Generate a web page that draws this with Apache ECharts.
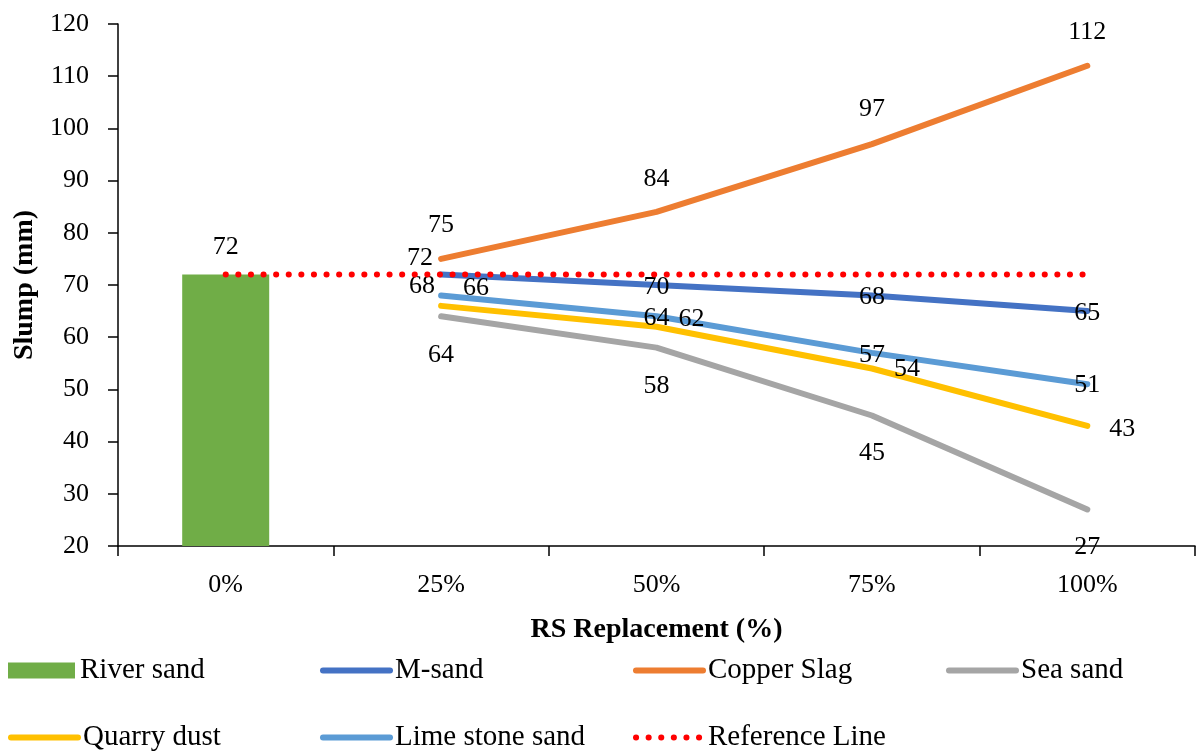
<!DOCTYPE html>
<html>
<head>
<meta charset="utf-8">
<title>Slump vs RS Replacement</title>
<script src="https://cdn.jsdelivr.net/npm/echarts@6/dist/echarts.min.js"></script>
<style>
  html, body { margin: 0; padding: 0; background: #fff; }
  #chart { width: 1196px; height: 751px; }
</style>
</head>
<body>
<div id="chart"></div>
<script>
// Slump (mm) for each fine-aggregate type at each replacement level of river sand
const categories = ['0%', '25%', '50%', '75%', '100%'];
const riverSand = [72, '-', '-', '-', '-'];
const mSand = ['-', 72, 70, 68, 65];
const copperSlag = ['-', 75, 84, 97, 112];
const seaSand = ['-', 64, 58, 45, 27];
const quarryDust = ['-', 66, 62, 54, 43];
const limeStoneSand = ['-', 68, 64, 57, 51];
const referenceLine = [72, 72, 72, 72, 72];
const yTicks = { min: 20, max: 120, step: 10 };

// Label nudges (pixels from each point) so the value labels don't collide
const labelNudge = {
  mSand:     [null, [-21, -16], [0, 2], [0, 2], [0, 2]],
  copper:    [null, [0, -34], [0, -33], [0, -35], [0, -34]],
  seaSand:   [null, [0, 39], [0, 39], [0, 38], [0, 38]],
  quarry:    [null, [35, -18], [35, -8], [35, 1], [35, 3]],
  limeStone: [null, [-19, -9], [0, 2], [0, 2], [0, 1]]
};

const FONT = 'Liberation Serif';
const FS_NUM = 26;     // tick and value labels
const FS_TEXT = 29;    // legend entries
const FS_NAME = 28;    // axis titles
const LINE_W = 6;
const DOTS = [0.1, 12.5];

function labelled(values, nudges) {
  return values.map((v, i) => {
    if (v === '-') return v;
    return {
      value: v,
      label: { show: true, position: 'inside', offset: nudges[i] }
    };
  });
}

function lineSeries(name, values, color, nudges) {
  return {
    name: name,
    type: 'line',
    data: labelled(values, nudges),
    symbol: 'circle',
    symbolSize: 2,
    itemStyle: { color: 'rgba(0,0,0,0)' },
    lineStyle: { color: color, width: LINE_W, cap: 'round', join: 'round' },
    label: { color: '#000', fontFamily: FONT, fontSize: FS_NUM },
    emphasis: { disabled: true },
    animation: false
  };
}

function legendAt(name, left, top, kind) {
  const l = {
    data: [name],
    left: left,
    top: top,
    padding: 0,
    itemWidth: 67,
    itemHeight: 16,
    selectedMode: false,
    textStyle: { color: '#000', fontFamily: FONT, fontSize: FS_TEXT }
  };
  if (kind === 'bar') {
    l.icon = 'rect';
  } else {
    l.itemStyle = { color: 'rgba(0,0,0,0)', borderWidth: 0 };
    l.lineStyle = { width: LINE_W, cap: 'round' };
    if (kind === 'dots') l.lineStyle.type = DOTS;
  }
  return l;
}

const chart = echarts.init(document.getElementById('chart'));
chart.setOption({
  animation: false,
  backgroundColor: '#fff',
  textStyle: { fontFamily: FONT },
  grid: { left: 118, right: 1, top: 24, bottom: 205, containLabel: false, outerBoundsMode: 'none' },
  legend: [
    legendAt('River sand', 8, 656, 'bar'),
    legendAt('M-sand', 320, 656, 'line'),
    legendAt('Copper Slag', 633, 656, 'line'),
    legendAt('Sea sand', 946, 656, 'line'),
    legendAt('Quarry dust', 8, 723, 'line'),
    legendAt('Lime stone sand', 320, 723, 'line'),
    legendAt('Reference Line', 633, 723, 'dots')
  ],
  xAxis: {
    type: 'category',
    data: categories,
    boundaryGap: true,
    name: 'RS Replacement (%)',
    nameLocation: 'middle',
    nameGap: 70,
    nameTextStyle: { color: '#000', fontFamily: FONT, fontSize: FS_NAME, fontWeight: 'bold' },
    axisLine: { show: true, lineStyle: { color: '#000', width: 1.5 } },
    axisTick: { show: true, length: 10, lineStyle: { color: '#000', width: 1.5 } },
    axisLabel: { color: '#000', fontFamily: FONT, fontSize: FS_NUM, margin: 26 },
    splitLine: { show: false }
  },
  yAxis: {
    type: 'value',
    min: yTicks.min,
    max: yTicks.max,
    interval: yTicks.step,
    name: 'Slump (mm)',
    nameLocation: 'middle',
    nameGap: 74,
    nameTextStyle: { color: '#000', fontFamily: FONT, fontSize: FS_NAME, fontWeight: 'bold' },
    axisLine: { show: true, lineStyle: { color: '#000', width: 1.5 } },
    axisTick: { show: true, length: 10, lineStyle: { color: '#000', width: 1.5 } },
    axisLabel: { color: '#000', fontFamily: FONT, fontSize: FS_NUM, margin: 29 },
    splitLine: { show: false }
  },
  series: [
    {
      name: 'River sand',
      type: 'bar',
      data: riverSand,
      barWidth: 87,
      itemStyle: { color: '#70AD47' },
      label: { show: true, position: 'top', distance: 14, color: '#000', fontFamily: FONT, fontSize: FS_NUM },
      emphasis: { disabled: true }
    },
    lineSeries('M-sand', mSand, '#4472C4', labelNudge.mSand),
    lineSeries('Copper Slag', copperSlag, '#ED7D31', labelNudge.copper),
    lineSeries('Sea sand', seaSand, '#A5A5A5', labelNudge.seaSand),
    lineSeries('Quarry dust', quarryDust, '#FFC000', labelNudge.quarry),
    lineSeries('Lime stone sand', limeStoneSand, '#5B9BD5', labelNudge.limeStone),
    {
      name: 'Reference Line',
      type: 'line',
      data: referenceLine,
      symbol: 'none',
      itemStyle: { color: 'rgba(0,0,0,0)' },
      lineStyle: { color: '#FF0000', width: LINE_W, type: DOTS, cap: 'round' },
      emphasis: { disabled: true },
      z: 5
    }
  ]
});
</script>
</body>
</html>
